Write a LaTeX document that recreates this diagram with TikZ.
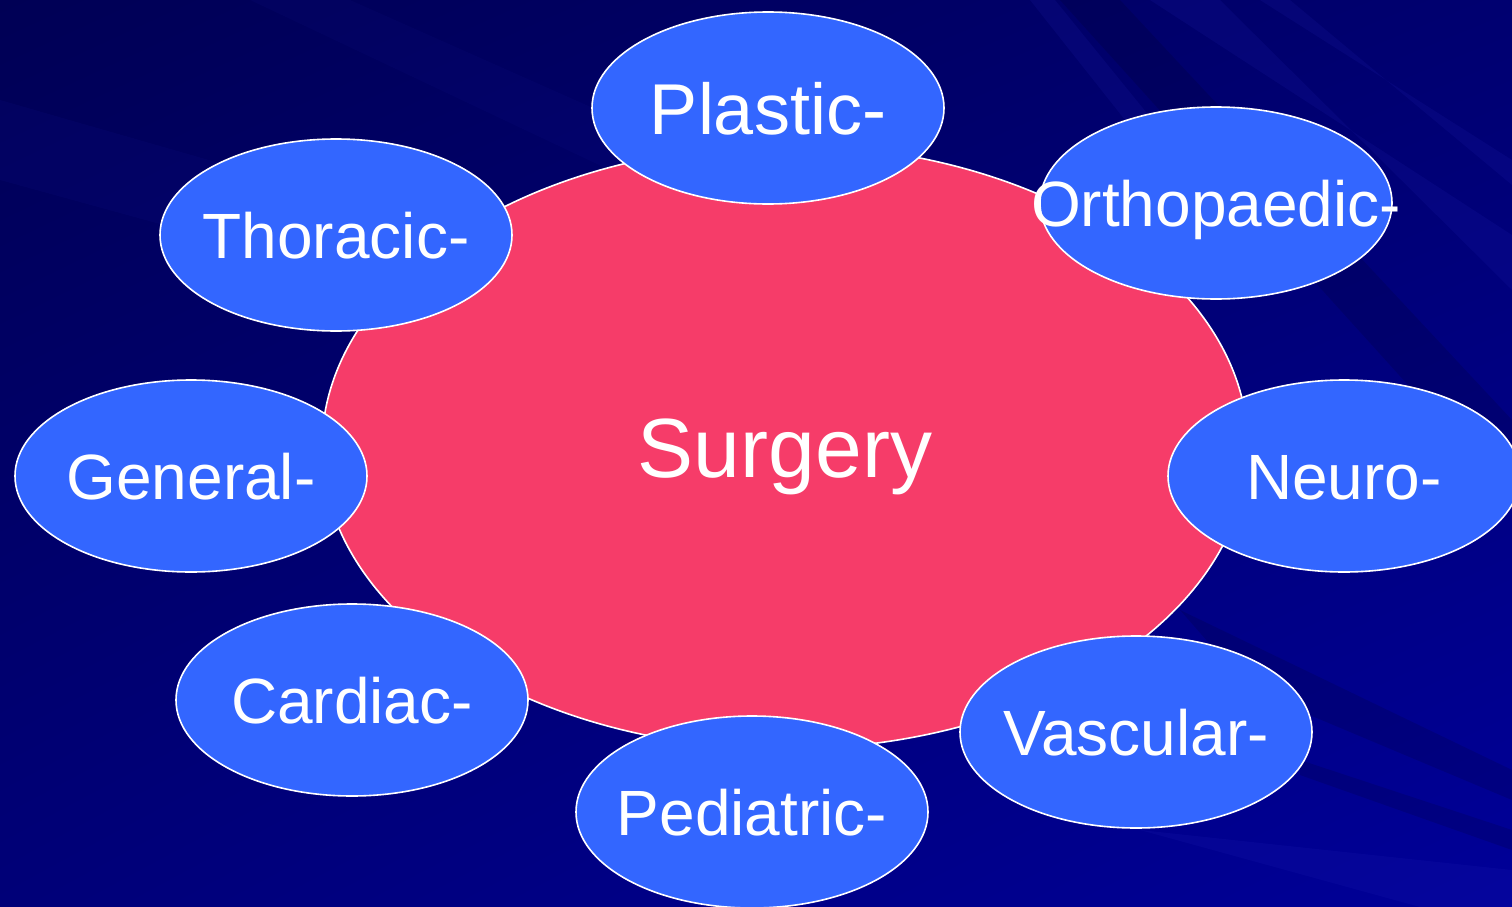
\documentclass[tikz,border=0pt]{standalone}
\usepackage{fontspec}
\setmainfont{Liberation Sans}
\usetikzlibrary{shapes.geometric,shadings}
\definecolor{bgA}{HTML}{000055}
\definecolor{bgB}{HTML}{000070}
\definecolor{bgC}{HTML}{000078}
\definecolor{bgD}{HTML}{000098}
\definecolor{satblue}{HTML}{3366FF}
\definecolor{hubpink}{HTML}{F63C69}
\definecolor{streak}{HTML}{2A2AC0}
\begin{document}
\begin{tikzpicture}[x=1pt,y=-1pt,
  sat/.style={ellipse, draw=white, line width=1.6pt, fill=satblue,
    minimum width=352pt, minimum height=192pt, inner sep=0pt, text=white,
    font=\fontsize{64}{64}\selectfont, text height=46pt, text depth=0pt},
  hub/.style={ellipse, draw=white, line width=1.6pt, fill=hubpink,
    minimum width=926pt, minimum height=604pt, inner sep=0pt, text=white,
    font=\fontsize{84}{84}\selectfont, text height=60pt, text depth=0pt},
  ray/.style={fill=streak, opacity=0.13},
  shadow/.style={fill=black, opacity=0.12}]
\useasboundingbox (0,0) rectangle (1512,907);
\shade[upper left=bgA, upper right=bgB, lower left=bgC, lower right=bgD]
  (0,0) rectangle (1512,907);
% background streaks
\fill[ray] (1150,0) -- (1220,0) -- (1512,290) -- (1512,235) -- cycle;
\fill[ray] (1260,0) -- (1290,0) -- (1512,185) -- (1512,160) -- cycle;
\fill[ray] (1030,0) -- (1055,0) -- (1250,240) -- (1220,240) -- cycle;
\fill[shadow] (1060,0) -- (1120,0) -- (1512,420) -- (1512,500) -- cycle;
\fill[ray] (1140,830) -- (1512,870) -- (1512,907) -- (1420,907) -- cycle;
\fill[shadow] (1180,610) -- (1512,770) -- (1512,800) -- (1250,690) -- cycle;
\fill[shadow] (1300,760) -- (1512,830) -- (1512,850) -- (1300,775) -- cycle;
\fill[ray, opacity=0.07] (0,100) -- (800,330) -- (800,400) -- (0,180) -- cycle;
\fill[ray, opacity=0.06] (250,0) -- (350,0) -- (800,200) -- (800,260) -- cycle;
% hub
\node[hub] (surgery) at (785,447) {\makebox[0pt]{Surgery}};
% satellites
\node[sat, font=\fontsize{72}{72}\selectfont, text height=52pt] (plastic) at (768,108) {\makebox[0pt]{Plastic-}};
\node[sat] (ortho) at (1216,203) {\makebox[0pt]{Orthopaedic-}};
\node[sat] (thoracic) at (336,235) {\makebox[0pt]{Thoracic-}};
\node[sat] (general) at (191,476) {\makebox[0pt]{General-}};
\node[sat] (neuro) at (1344,476) {\makebox[0pt]{Neuro-}};
\node[sat] (cardiac) at (352,700) {\makebox[0pt]{Cardiac-}};
\node[sat] (pediatric) at (752,812) {\makebox[0pt]{Pediatric-}};
\node[sat] (vascular) at (1136,732) {\makebox[0pt]{Vascular-}};
\end{tikzpicture}
\end{document}
